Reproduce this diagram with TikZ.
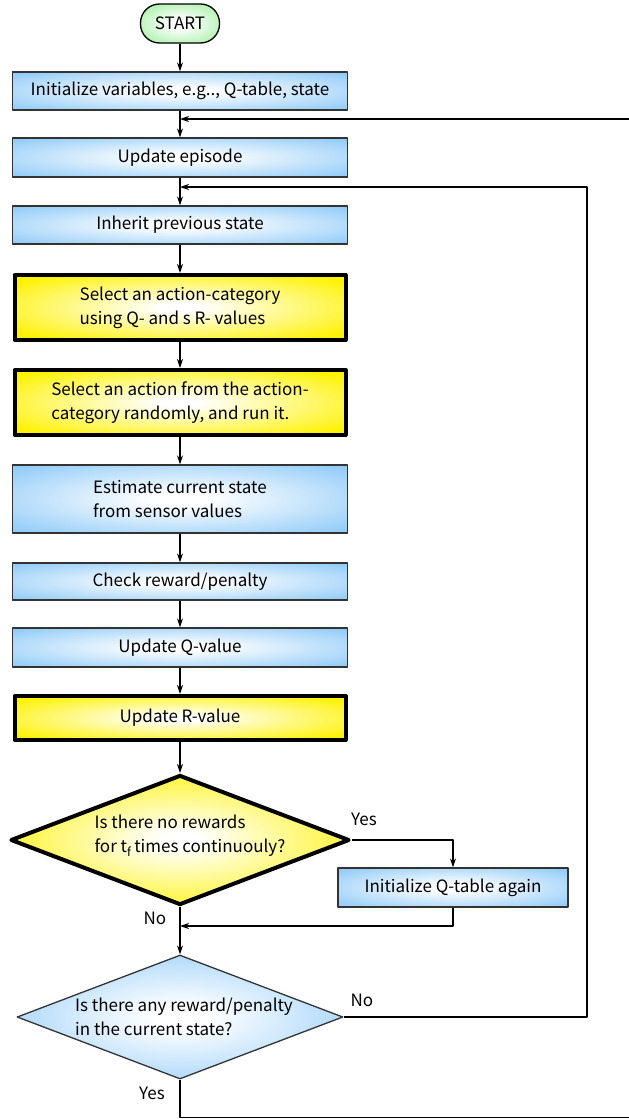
\documentclass[tikz,border=0pt]{standalone}
\usepackage{fontspec}
\setmainfont{Noto Sans CJK JP}
\usetikzlibrary{shapes.geometric,arrows.meta}

\definecolor{boxblue}{RGB}{138,200,248}
\definecolor{boxyellow}{RGB}{255,242,0}
\definecolor{boxgreen}{RGB}{140,236,140}
\pgfdeclareradialshading{blueglow}{\pgfpoint{0bp}{0bp}}{color(0bp)=(white); color(4bp)=(white); color(36bp)=(boxblue); color(100bp)=(boxblue)}
\pgfdeclareradialshading{yellowglow}{\pgfpoint{0bp}{0bp}}{color(0bp)=(white); color(3bp)=(white); color(32bp)=(boxyellow); color(100bp)=(boxyellow)}
\pgfdeclareradialshading{greenglow}{\pgfpoint{0bp}{0bp}}{color(0bp)=(white); color(6bp)=(white); color(40bp)=(boxgreen); color(100bp)=(boxgreen)}

\begin{document}
\begin{tikzpicture}[x=1pt, y=-1pt, font=\fontsize{17}{24}\selectfont, line join=round, >={Stealth[length=9pt,width=6pt]},
	process/.style={rectangle, draw=black!80, line width=1.3pt, shading=blueglow, minimum width=335pt, align=left},
	keystep/.style={process, draw=black, line width=4pt, shading=yellowglow, minimum width=331pt},
	decision/.style={diamond, draw=black!80, line width=1.3pt, shading=blueglow, inner sep=0pt},
	link/.style={line width=1.3pt}]
	\useasboundingbox (0,0) rectangle (629,1119);
	% main column
	\node[rectangle, rounded corners=19pt, draw, line width=1.3pt, shading=greenglow, minimum width=79pt, minimum height=39pt] (start) at (180,23.5) {START};
	\node[process, minimum height=38pt] (init) at (180,91) {Initialize variables, e.g.., Q-table, state};
	\node[process, minimum height=39pt] (episode) at (180,157.5) {Update episode};
	\node[process, minimum height=38pt] (inherit) at (180,225) {Inherit previous state};
	\node[keystep, minimum height=65pt] (selcat) at (180,307.5) {Select an action-category\\using Q- and s R- values};
	\node[keystep, minimum height=65pt] (selact) at (180,402.5) {Select an action from the action-\\category randomly, and run it.};
	\node[process, minimum height=68pt] (estimate) at (180,499) {Estimate current state\\from sensor values};
	\node[process, minimum height=37pt] (check) at (180,581.5) {Check reward/penalty};
	\node[process, minimum height=39pt] (updq) at (180,647.5) {Update Q-value};
	\node[keystep, minimum height=44pt] (updr) at (180,718) {Update R-value};
	% decisions
	\node[decision, draw=black, line width=4pt, shading=yellowglow, minimum width=339pt, minimum height=130pt] (noreward) at (180,840) {};
	\node[align=left] (noreward-q) at (190,836) {Is there no rewards\\for t\textsubscript{f}\,times continuouly?};
	\node[process, minimum width=230pt, minimum height=39pt] (reinit) at (453,887.5) {Initialize Q-table again};
	\node[decision, minimum width=326pt, minimum height=124pt] (anyreward) at (180,1017) {};
	\node[align=left] (anyreward-q) at (184,1017) {Is there any reward/penalty\\in the current state?};
	% branch labels
	\node (yes1) at (364,819) {Yes};
	\node (no1) at (155,918) {No};
	\node (no2) at (362,1000) {No};
	\node (yes2) at (152,1093) {Yes};
	% connectors
	\foreach \a/\b in {start/init, init/episode, episode/inherit, inherit/selcat, selcat/selact, selact/estimate, estimate/check, check/updq, updq/updr, updr/noreward, noreward/anyreward}
	\draw[link,->] (\a) -- (\b);
	\coordinate (feedin) at (629,119);
	\coordinate (retry) at (587,187);
	\coordinate (rejoin) at (180,926);
	\coordinate (finish) at (629,1117.5);
	\draw[link,->] (feedin) -- (init.south |- feedin);
	\draw[link,->] (anyreward.east) -| (retry) -- (episode.south |- retry);
	\draw[link,->] (noreward.east) -| (reinit.north);
	\draw[link,->] (reinit.south) |- (rejoin);
	\draw[link] (anyreward.south) |- (finish);
\end{tikzpicture}
\end{document}
